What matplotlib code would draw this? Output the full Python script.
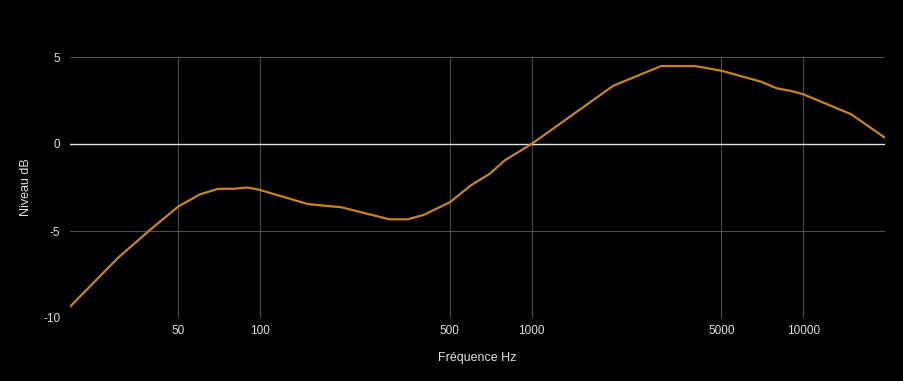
import numpy as np
import matplotlib
matplotlib.use("Agg")
import matplotlib.pyplot as plt
from matplotlib.ticker import FixedLocator, NullLocator, FixedFormatter

freqs = [20, 30, 40, 50, 60, 70, 80, 90, 100, 150, 200, 300, 350, 400, 500,
         600, 700, 800, 1000, 2000, 3000, 4000, 5000, 7000, 8000, 9000,
         10000, 15000, 20000]
levels = [-9.35, -6.55, -4.85, -3.6, -2.9, -2.58, -2.57, -2.5, -2.64, -3.45,
          -3.64, -4.33, -4.33, -4.08, -3.35, -2.36, -1.72, -0.92, 0.0, 3.35,
          4.48, 4.48, 4.21, 3.58, 3.2, 3.05, 2.86, 1.71, 0.36]

x_ticks = [50, 100, 500, 1000, 5000, 10000]
y_ticks = [-10, -5, 0, 5]

plt.rcParams['font.family'] = ['Liberation Sans', 'DejaVu Sans']

fig = plt.figure(figsize=(9.04, 3.81), dpi=100, facecolor='black')
ax = fig.add_axes([70 / 904, 1 - 318 / 381, 815 / 904, 261 / 381])
ax.set_facecolor('black')

ax.set_xscale('log')
ax.set_xlim(20, 20000)
ax.set_ylim(-10, 5)

ax.xaxis.set_major_locator(FixedLocator(x_ticks))
ax.xaxis.set_major_formatter(FixedFormatter([str(t) for t in x_ticks]))
ax.xaxis.set_minor_locator(NullLocator())
ax.set_yticks(y_ticks)
ax.set_yticklabels([str(t) for t in y_ticks])

for t in x_ticks:
    ax.axvline(t, color='#4d4d4d', linewidth=0.8, zorder=1)
for t in [-10, -5, 5]:
    ax.axhline(t, color='#4d4d4d', linewidth=0.8, zorder=1)
ax.axhline(0, color='#e6e6e6', linewidth=1.0, zorder=2)

ax.plot(freqs, levels, color='#c8841e', linewidth=1.6, zorder=3)

for s in ax.spines.values():
    s.set_visible(False)
ax.tick_params(axis='both', length=0, colors='#e0e0e0', labelsize=8.5)
ax.tick_params(axis='x', pad=5)
ax.tick_params(axis='y', pad=7)

ax.set_xlabel("Fréquence Hz", color='#e0e0e0', fontsize=9, labelpad=11)
ax.set_ylabel("Niveau dB", color='#e0e0e0', fontsize=9, labelpad=8)

fig.savefig("out.png", dpi=100, facecolor='black')
